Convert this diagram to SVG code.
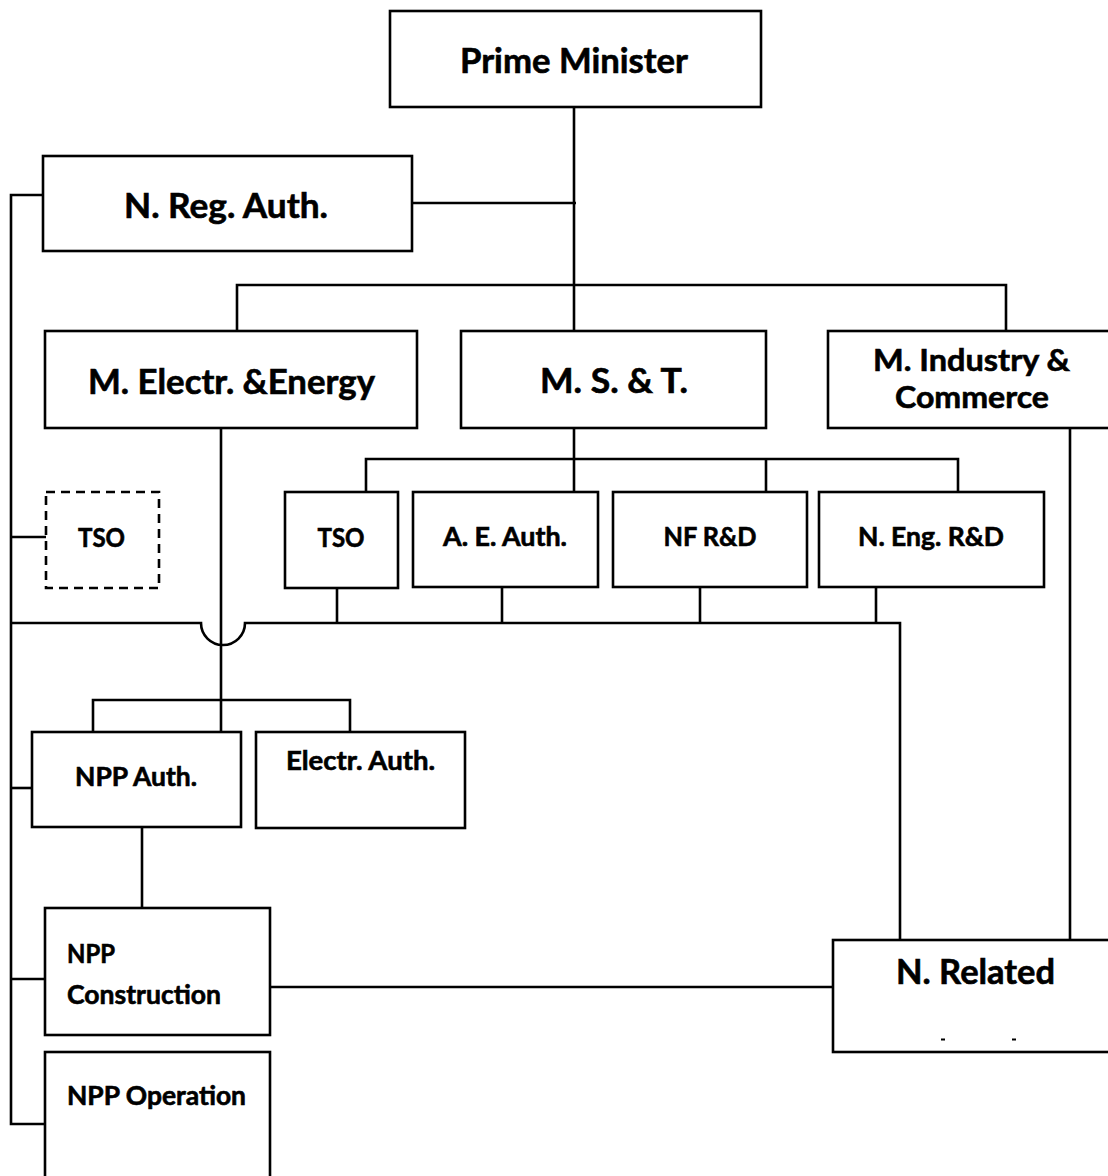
<svg xmlns="http://www.w3.org/2000/svg" width="1108" height="1176" viewBox="0 0 1108 1176">
  <style>
    .box { fill: #ffffff; stroke: #000000; stroke-width: 2.6; }
    .dash { fill: #ffffff; stroke: #000000; stroke-width: 2.6; stroke-dasharray: 9 6; }
    .wire { fill: none; stroke: #000000; stroke-width: 2.6; }
    text { font-family: Lato, "Liberation Sans", sans-serif; font-weight: bold; fill: #000000; stroke: #000000; stroke-width: 0.6; }
    .big { font-size: 34px; text-anchor: middle; }
    .mid { font-size: 31px; text-anchor: middle; }
    .small { font-size: 26px; text-anchor: middle; }
    .left { font-size: 26px; text-anchor: start; }
  </style>

  <!-- connectors -->
  <g id="connectors">
    <!-- Prime Minister trunk -->
    <path class="wire" d="M574 107 V330"/>
    <path class="wire" d="M412 203 H576"/>
    <path class="wire" d="M237 330 V285 H1006 V330"/>
    <!-- left-hand bus -->
    <path class="wire" d="M43 195 H11 V1124 H45"/>
    <path class="wire" d="M11 537 H46"/>
    <path class="wire" d="M11 788 H32"/>
    <path class="wire" d="M11 979 H45"/>
    <!-- M. S. & T. branches -->
    <path class="wire" d="M574 428 V492"/>
    <path class="wire" d="M366 492 V459 H958 V492"/>
    <path class="wire" d="M766 459 V492"/>
    <!-- lower bus with hop over the energy line -->
    <path class="wire" d="M11 623 H201 A22 22 0 0 0 245 623 H900 V940"/>
    <path class="wire" d="M337 588 V623"/>
    <path class="wire" d="M502 588 V623"/>
    <path class="wire" d="M700 588 V623"/>
    <path class="wire" d="M876 588 V623"/>
    <!-- M. Electr. & Energy branch -->
    <path class="wire" d="M221 428 V732"/>
    <path class="wire" d="M93 732 V700 H350 V732"/>
    <path class="wire" d="M142 827 V908"/>
    <!-- links into N. Related -->
    <path class="wire" d="M270 987 H833"/>
    <path class="wire" d="M1070 428 V940"/>
  </g>

  <g id="prime-minister">
    <rect class="box" x="390" y="11" width="371" height="96"/>
    <text class="big" x="574" y="73" textLength="228" lengthAdjust="spacingAndGlyphs">Prime Minister</text>
  </g>

  <g id="n-reg-auth">
    <rect class="box" x="43" y="156" width="369" height="95"/>
    <text class="big" x="226" y="218" textLength="204" lengthAdjust="spacingAndGlyphs">N. Reg. Auth.</text>
  </g>

  <g id="m-electr-energy">
    <rect class="box" x="45" y="331" width="372" height="97"/>
    <text class="big" x="231.5" y="394" textLength="287" lengthAdjust="spacingAndGlyphs">M. Electr. &amp;Energy</text>
  </g>

  <g id="m-s-t">
    <rect class="box" x="461" y="331" width="305" height="97"/>
    <text class="big" x="614" y="393" textLength="148" lengthAdjust="spacingAndGlyphs">M. S. &amp; T.</text>
  </g>

  <g id="m-industry-commerce">
    <rect class="box" x="828" y="331" width="300" height="97"/>
    <text class="mid" x="971.5" y="371" textLength="197" lengthAdjust="spacingAndGlyphs">M. Industry &amp;</text>
    <text class="mid" x="972" y="408" textLength="154" lengthAdjust="spacingAndGlyphs">Commerce</text>
  </g>

  <g id="tso-external">
    <rect class="dash" x="46" y="492" width="113" height="96"/>
    <text class="small" x="101.5" y="547" textLength="47" lengthAdjust="spacingAndGlyphs">TSO</text>
  </g>

  <g id="tso">
    <rect class="box" x="285" y="492" width="113" height="96"/>
    <text class="small" x="341" y="547" textLength="47" lengthAdjust="spacingAndGlyphs">TSO</text>
  </g>

  <g id="a-e-auth">
    <rect class="box" x="413" y="492" width="185" height="95"/>
    <text class="small" x="505" y="546" textLength="124" lengthAdjust="spacingAndGlyphs">A. E. Auth.</text>
  </g>

  <g id="nf-rd">
    <rect class="box" x="613" y="492" width="194" height="95"/>
    <text class="small" x="710" y="546" textLength="93" lengthAdjust="spacingAndGlyphs">NF R&amp;D</text>
  </g>

  <g id="n-eng-rd">
    <rect class="box" x="819" y="492" width="225" height="95"/>
    <text class="small" x="931" y="546" textLength="146" lengthAdjust="spacingAndGlyphs">N. Eng. R&amp;D</text>
  </g>

  <g id="npp-auth">
    <rect class="box" x="32" y="732" width="209" height="95"/>
    <text class="small" x="136" y="786" textLength="122" lengthAdjust="spacingAndGlyphs">NPP Auth.</text>
  </g>

  <g id="electr-auth">
    <rect class="box" x="256" y="732" width="209" height="96"/>
    <text class="small" x="360.5" y="770" textLength="149" lengthAdjust="spacingAndGlyphs">Electr. Auth.</text>
  </g>

  <g id="npp-construction">
    <rect class="box" x="45" y="908" width="225" height="127"/>
    <text class="left" x="67" y="963" textLength="48" lengthAdjust="spacingAndGlyphs">NPP</text>
    <text class="left" x="67" y="1004" textLength="154" lengthAdjust="spacingAndGlyphs">Construction</text>
  </g>

  <g id="npp-operation">
    <rect class="box" x="45" y="1052" width="225" height="140"/>
    <text class="left" x="67" y="1105" textLength="179" lengthAdjust="spacingAndGlyphs">NPP Operation</text>
  </g>

  <g id="n-related">
    <rect class="box" x="833" y="940" width="290" height="112"/>
    <text class="big" x="975.5" y="984" textLength="159" lengthAdjust="spacingAndGlyphs">N. Related</text>
    <rect x="941" y="1038.5" width="4" height="2" fill="#000000"/>
    <rect x="1012" y="1038.5" width="4" height="2" fill="#000000"/>
  </g>
</svg>
